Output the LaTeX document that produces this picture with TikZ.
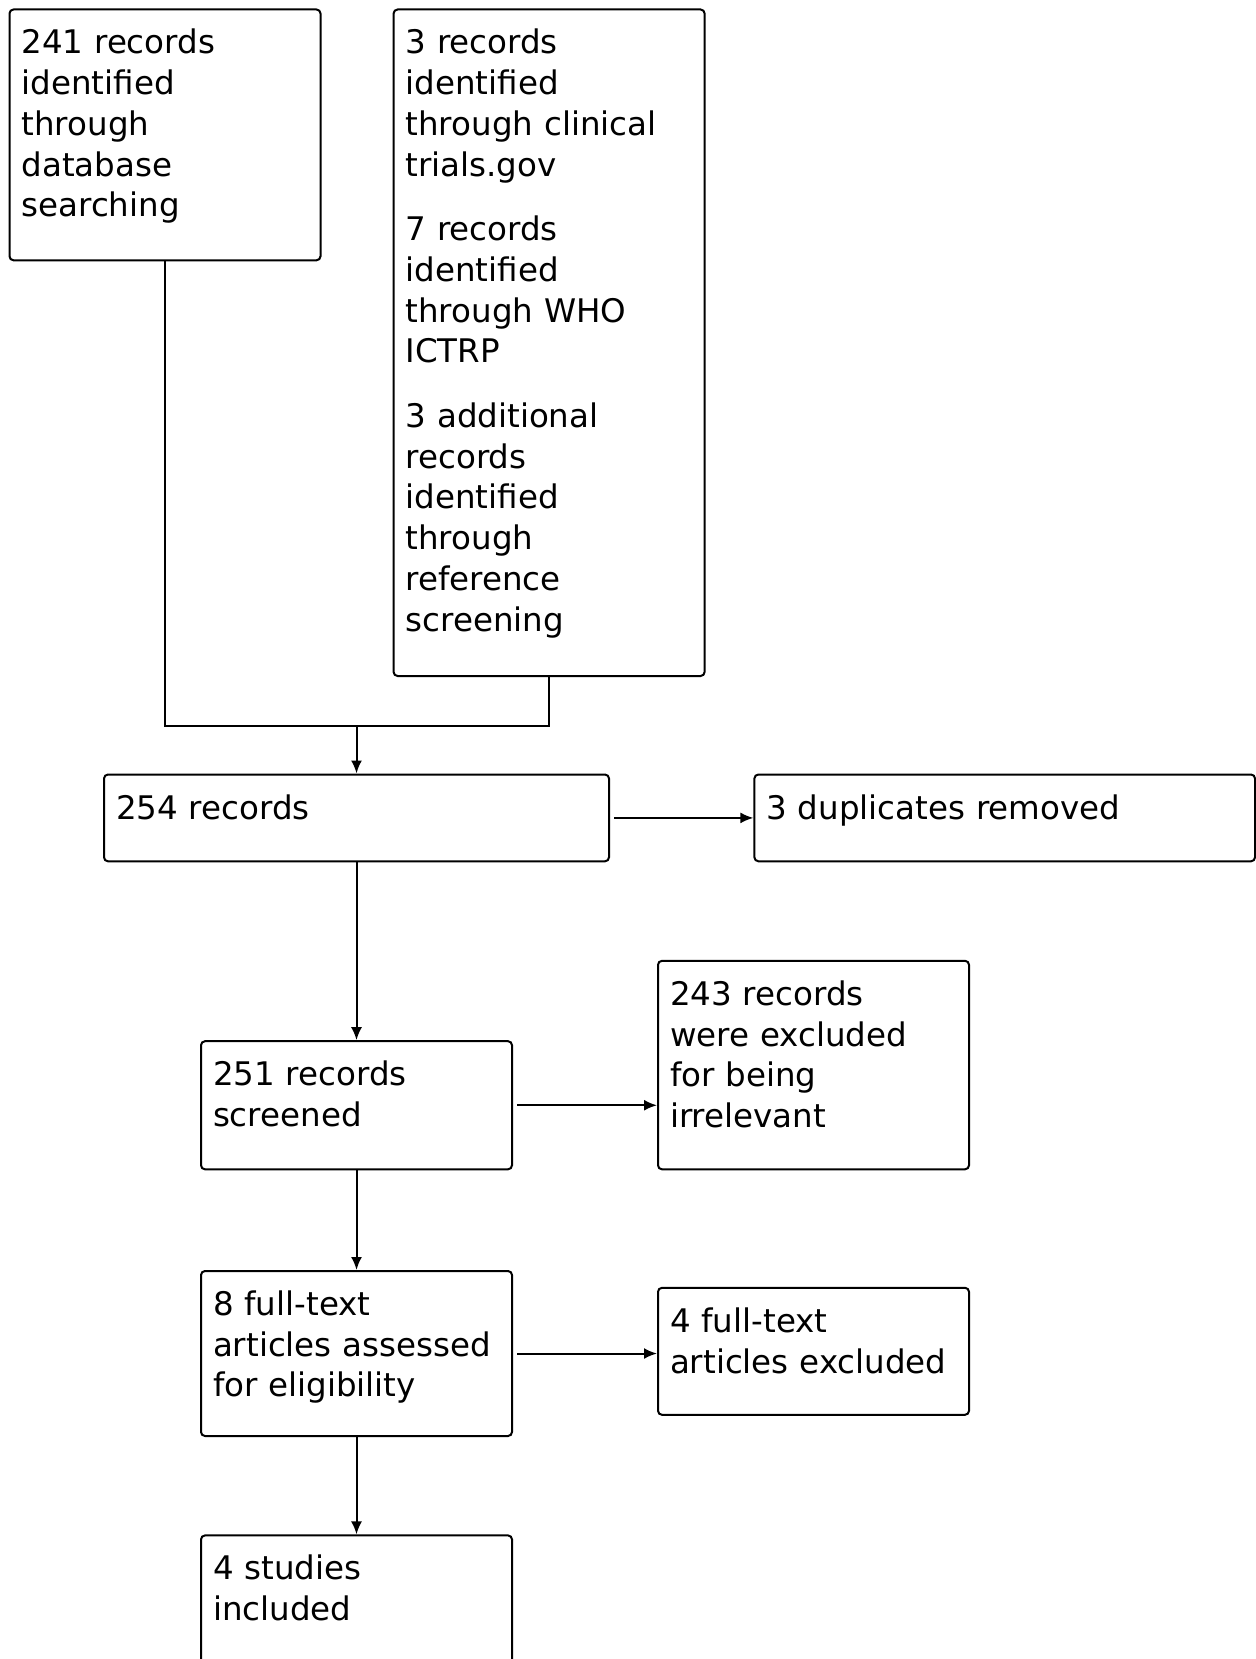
\documentclass[tikz,border=0pt]{standalone}
\usepackage{fontspec}
\setmainfont{DejaVu Sans}
\usetikzlibrary{arrows.meta}
\tikzset{every picture/.style={line width=1pt}}
\tikzset{
flowbox/.style={draw, rounded corners=2pt, anchor=north west, align=left,
  inner xsep=6pt, inner ysep=0pt, text width=143.5pt, text height=22.25pt,
  font=\fontsize{16.25}{20.35}\selectfont},
flowarrow/.style={-{Latex[length=6.5pt,width=5.5pt]}}}

\begin{document}
\begin{tikzpicture}[x=0.5pt,y=0.5pt,yscale=-1]
\useasboundingbox (0,0) rectangle (1255,1659);

% Text Node
\node (dbsearch) [flowbox, text depth=103.15pt] at (8.5,8.5) {241 records\\identified\\through\\database\\searching};
% Text Node
\node (othersrc) [flowbox, text depth=311pt] at (392.6,8.5) {3 records\\identified\\through clinical\\trials.gov\\[12pt]7 records\\identified\\through WHO\\ICTRP\\[12pt]3 additional\\records\\identified\\through\\reference\\screening};
% Text Node
\node (allrec) [flowbox, text width=240.5pt, text depth=21.15pt] at (103,773.5) {254 records};
% Text Node
\node (dupl) [flowbox, text width=238.3pt, text depth=21.15pt] at (753.4,773.5) {3 duplicates removed};
% Text Node
\node (screened) [flowbox, text depth=41.8pt] at (200,1040.2) {251 records\\screened};
% Text Node
\node (irrel) [flowbox, text depth=82pt] at (657,959.8) {243 records\\were excluded\\for being\\irrelevant};
% Text Node
\node (fulltext) [flowbox, text depth=60.25pt] at (200,1270) {8 full-text\\articles assessed\\for eligibility};
% Text Node
\node (ftexcl) [flowbox, text depth=41.25pt] at (657,1286.8) {4 full-text\\articles excluded};
% Text Node
\node (included) [flowbox, text depth=41.8pt] at (200,1534.4) {4 studies\\included};

%Straight Lines
\coordinate (join) at (allrec.north |- 0,726);
\draw (dbsearch.south) |- (join) -| (othersrc.south);
\draw [flowarrow] (join) -- (allrec.north);
\draw [flowarrow, shorten <=2pt] (allrec.east) -- (dupl.west);
\draw [flowarrow] (allrec.south) -- (screened.north);
\draw [flowarrow, shorten <=2pt] (screened.east) -- (screened.east -| irrel.west);
\draw [flowarrow] (screened.south) -- (fulltext.north);
\draw [flowarrow, shorten <=2pt] (fulltext.east) -- (fulltext.east -| ftexcl.west);
\draw [flowarrow] (fulltext.south) -- (included.north);

\end{tikzpicture}
\end{document}
